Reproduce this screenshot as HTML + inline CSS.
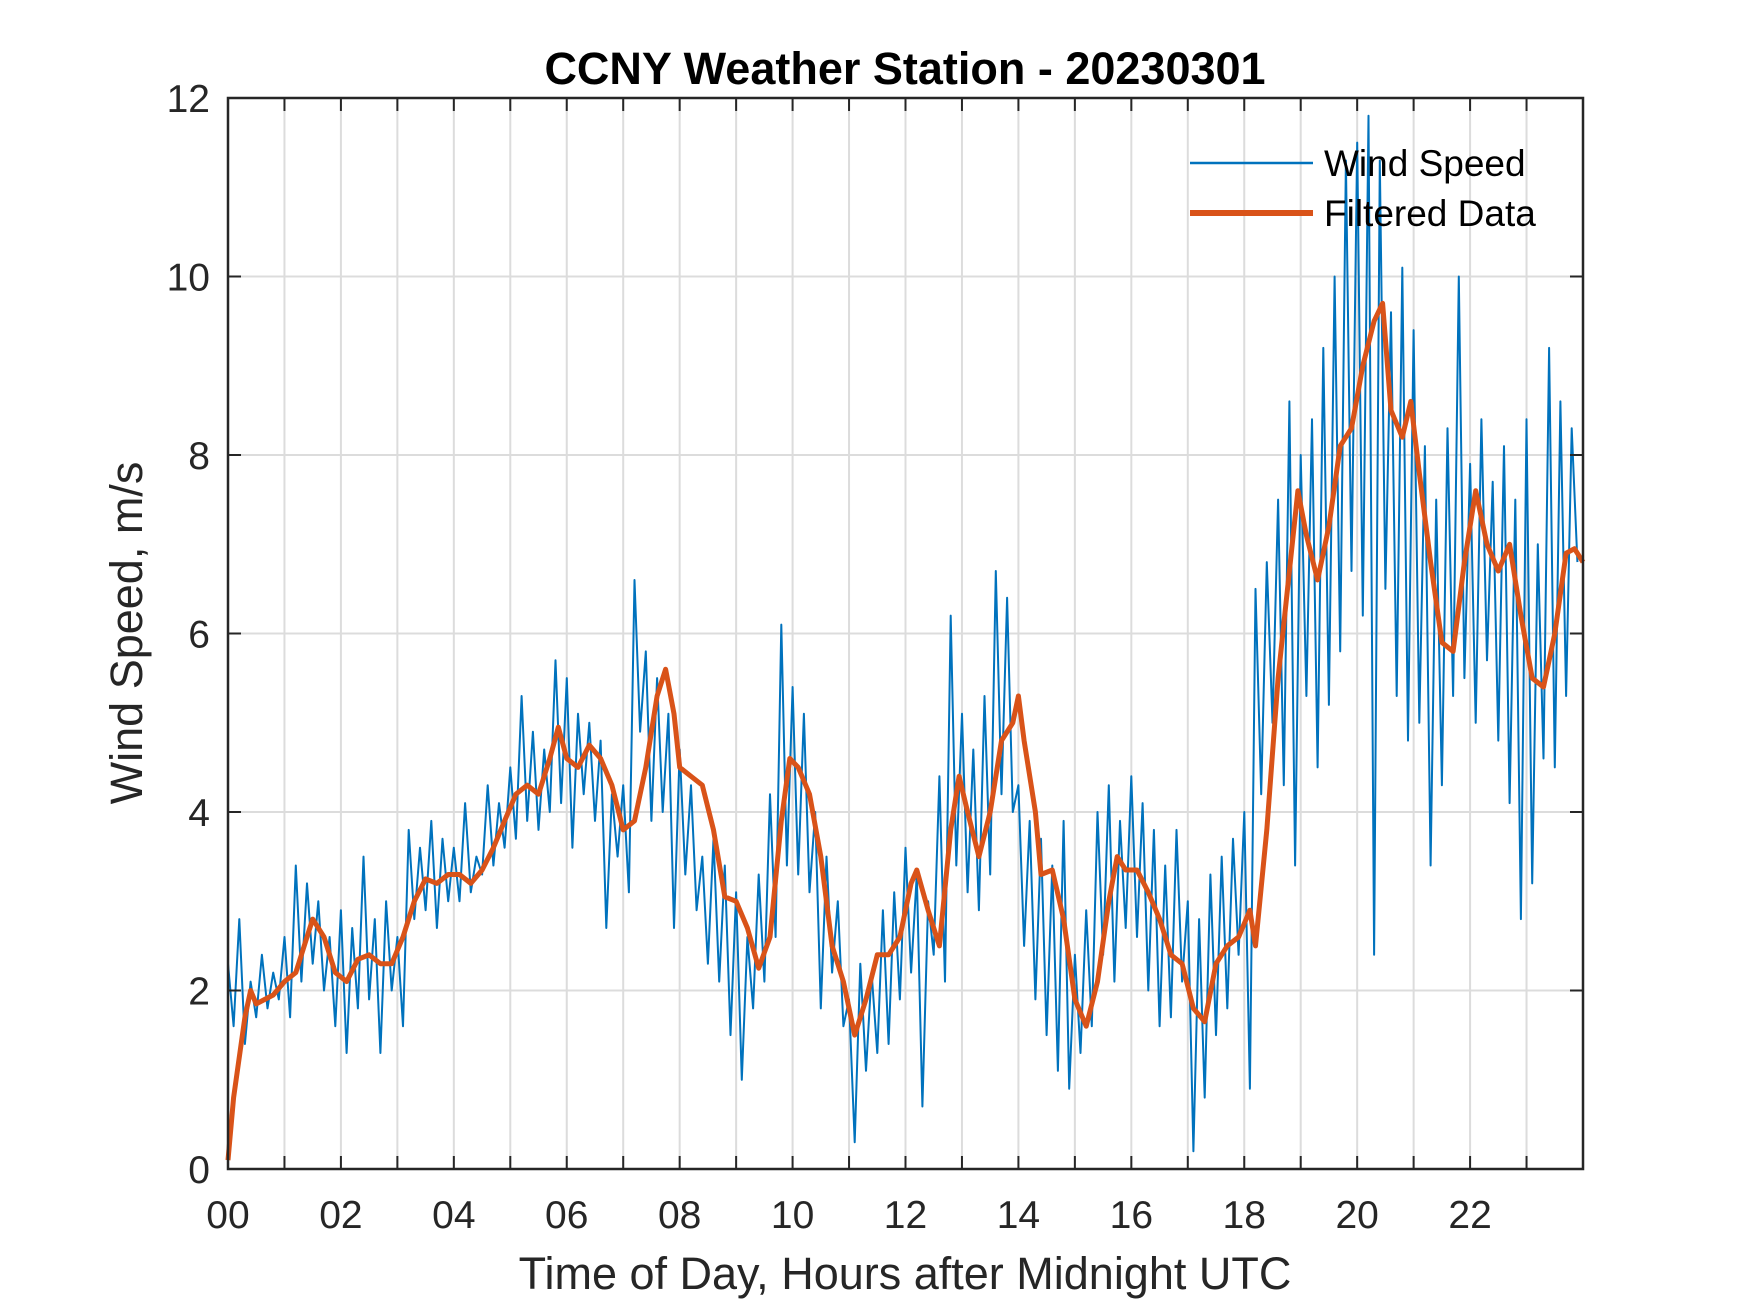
<!DOCTYPE html>
<html><head><meta charset="utf-8"><style>
html,body{margin:0;padding:0;background:#fff;}
svg{display:block;font-family:"Liberation Sans",Arial,sans-serif;}
</style></head><body>
<svg id="chart" width="1750" height="1313" viewBox="0 0 1750 1313">
<rect width="1750" height="1313" fill="#fff"/>
<g id="grid"></g>
<g id="series"></g>
<g id="axes"></g>
<text x="905" y="84" text-anchor="middle" font-size="45" font-weight="bold" fill="#000">CCNY Weather Station - 20230301</text>
<text x="905" y="1289" text-anchor="middle" font-size="45" fill="#262626">Time of Day, Hours after Midnight UTC</text>
<text transform="translate(142,633) rotate(-90)" text-anchor="middle" font-size="45" fill="#262626">Wind Speed, m/s</text>
<g>
<line x1="1190" y1="163" x2="1313" y2="163" stroke="#0072BD" stroke-width="2.5"/>
<text x="1324" y="176" font-size="37" fill="#000">Wind Speed</text>
<line x1="1190" y1="213" x2="1313" y2="213" stroke="#D95319" stroke-width="6"/>
<text x="1324" y="226" font-size="37" fill="#000">Filtered Data</text>
</g>
</svg>
<script>
const windValues = [
2.3,1.6,2.8,1.4,2.1,1.7,2.4,1.8,2.2,1.9,
2.6,1.7,3.4,2.1,3.2,2.3,3.0,2.0,2.6,1.6,
2.9,1.3,2.7,1.8,3.5,1.9,2.8,1.3,3.0,2.0,
2.6,1.6,3.8,2.8,3.6,2.9,3.9,2.7,3.7,3.0,
3.6,3.0,4.1,3.1,3.5,3.3,4.3,3.4,4.1,3.6,
4.5,3.7,5.3,3.9,4.9,3.8,4.7,4.0,5.7,4.1,
5.5,3.6,5.1,4.2,5.0,3.9,4.8,2.7,4.2,3.5,
4.3,3.1,6.6,4.9,5.8,3.9,5.5,4.0,5.1,2.7,
4.7,3.3,4.3,2.9,3.5,2.3,3.7,2.1,3.4,1.5,
3.1,1.0,2.6,1.8,3.3,2.1,4.2,2.6,6.1,3.4,
5.4,3.3,5.1,3.1,4.0,1.8,3.5,2.2,3.0,1.6,
1.9,0.3,2.3,1.1,2.2,1.3,2.9,1.4,3.1,1.9,
3.6,2.2,3.3,0.7,3.0,2.4,4.4,2.1,6.2,3.4,
5.1,3.1,4.7,2.9,5.3,3.3,6.7,4.2,6.4,4.0,
4.3,2.5,3.9,1.9,3.7,1.5,3.4,1.1,3.9,0.9,
2.4,1.3,2.9,1.6,4.0,2.4,4.3,2.1,3.9,2.7,
4.4,2.6,4.1,2.0,3.8,1.6,3.4,1.7,3.8,2.1,
3.0,0.2,2.8,0.8,3.3,1.5,3.5,1.8,3.7,2.4,
4.0,0.9,6.5,4.2,6.8,5.0,7.5,4.3,8.6,3.4,
8.0,5.3,8.4,4.5,9.2,5.2,10.0,5.8,11.3,6.7,
11.5,6.2,11.8,2.4,11.3,6.5,9.6,5.3,10.1,4.8,
9.4,5.0,8.1,3.4,7.5,4.3,8.3,5.3,10.0,5.5,
7.9,5.0,8.4,5.7,7.7,4.8,8.1,4.1,7.5,2.8,
8.4,3.2,7.0,4.6,9.2,4.5,8.6,5.3,8.3,6.8
];
const windStepHours = 0.1;
const filtHours = [0,0.1,0.3,0.4,0.5,0.8,1.0,1.2,1.4,1.5,1.7,1.9,2.1,2.3,2.5,2.7,2.9,3.1,3.3,3.5,3.7,3.9,4.1,4.3,4.5,4.7,4.9,5.1,5.3,5.5,5.7,5.85,6.0,6.2,6.4,6.6,6.8,7.0,7.2,7.4,7.6,7.75,7.9,8.0,8.2,8.4,8.6,8.8,9.0,9.2,9.4,9.6,9.8,9.95,10.1,10.3,10.5,10.7,10.9,11.1,11.3,11.5,11.7,11.9,12.1,12.2,12.4,12.6,12.8,12.95,13.1,13.3,13.5,13.7,13.9,14.0,14.1,14.3,14.4,14.6,14.8,15.0,15.2,15.4,15.6,15.75,15.9,16.1,16.3,16.5,16.7,16.9,17.1,17.3,17.5,17.7,17.9,18.1,18.2,18.4,18.6,18.8,18.95,19.1,19.3,19.5,19.7,19.9,20.1,20.3,20.45,20.6,20.8,20.95,21.1,21.3,21.5,21.7,21.9,22.1,22.3,22.5,22.7,22.9,23.1,23.3,23.5,23.7,23.85,24.0];
const filtValues = [0.1,0.8,1.7,2.0,1.85,1.95,2.1,2.2,2.6,2.8,2.6,2.2,2.1,2.35,2.4,2.3,2.3,2.6,3.0,3.25,3.2,3.3,3.3,3.2,3.35,3.6,3.9,4.2,4.3,4.2,4.6,4.95,4.6,4.5,4.75,4.6,4.3,3.8,3.9,4.5,5.3,5.6,5.1,4.5,4.4,4.3,3.8,3.05,3.0,2.7,2.25,2.6,3.9,4.6,4.5,4.2,3.5,2.5,2.1,1.5,1.9,2.4,2.4,2.6,3.2,3.35,2.9,2.5,3.8,4.4,4.0,3.5,4.0,4.8,5.0,5.3,4.8,4.0,3.3,3.35,2.8,1.9,1.6,2.1,3.0,3.5,3.35,3.35,3.1,2.8,2.4,2.3,1.8,1.65,2.3,2.5,2.6,2.9,2.5,3.8,5.5,6.7,7.6,7.1,6.6,7.2,8.1,8.3,9.0,9.5,9.7,8.5,8.2,8.6,7.8,6.8,5.9,5.8,6.8,7.6,7.0,6.7,7.0,6.2,5.5,5.4,6.0,6.9,6.95,6.8];
const xTickLabels = ["00","02","04","06","08","10","12","14","16","18","20","22"];
const yTickLabels = ["0","2","4","6","8","10","12"];

const L=228,R=1583,T=98,B=1169,XMAX=24,YMAX=12;
const NS="http://www.w3.org/2000/svg";
function xs(h){return L+(R-L)*h/XMAX;}
function ys(v){return B-(B-T)*v/YMAX;}
function mk(tag,attrs,parent){const e=document.createElementNS(NS,tag);for(const k in attrs)e.setAttribute(k,attrs[k]);parent.appendChild(e);return e;}
const grid=document.getElementById('grid'),series=document.getElementById('series'),axes=document.getElementById('axes');
for(let h=1;h<XMAX;h++){
  const g=mk('line',{x1:xs(h),x2:xs(h),y1:T,y2:B,stroke:'#dcdcdc','stroke-width':2},grid);
  
  
}
for(let i=1;i<yTickLabels.length-1;i++){
  const v=+yTickLabels[i];
  const g=mk('line',{x1:L,x2:R,y1:ys(v),y2:ys(v),stroke:'#dcdcdc','stroke-width':2},grid);
  
  
}
let d='';
windValues.forEach((v,i)=>{d+=(i?'L':'M')+xs(i*windStepHours).toFixed(1)+' '+ys(v).toFixed(1);});
const wl=mk('path',{d:d,fill:'none',stroke:'#0072BD','stroke-width':2,'stroke-linejoin':'round'},series);


d='';
filtValues.forEach((v,i)=>{d+=(i?'L':'M')+xs(filtHours[i]).toFixed(1)+' '+ys(v).toFixed(1);});
const fl=mk('path',{d:d,fill:'none',stroke:'#D95319','stroke-width':5,'stroke-linejoin':'round'},series);


const box=mk('rect',{x:L,y:T,width:R-L,height:B-T,fill:'none',stroke:'#262626','stroke-width':2.5},axes);


for(let h=0;h<XMAX;h++){
  mk('line',{x1:xs(h),x2:xs(h),y1:B,y2:B-13,stroke:'#262626','stroke-width':2},axes);
  mk('line',{x1:xs(h),x2:xs(h),y1:T,y2:T+13,stroke:'#262626','stroke-width':2},axes);
}
xTickLabels.forEach(lab=>{
  const t=mk('text',{x:xs(+lab),y:1228,'text-anchor':'middle','font-size':39,fill:'#262626'},axes);
  t.textContent=lab;
  
  
});
yTickLabels.forEach(lab=>{
  const v=+lab;
  mk('line',{x1:L,x2:L+13,y1:ys(v),y2:ys(v),stroke:'#262626','stroke-width':2},axes);
  mk('line',{x1:R,x2:R-13,y1:ys(v),y2:ys(v),stroke:'#262626','stroke-width':2},axes);
  const t=mk('text',{x:210,y:ys(v)+14,'text-anchor':'end','font-size':39,fill:'#262626'},axes);
  t.textContent=lab;
  
  
});
</script>
</body></html>
